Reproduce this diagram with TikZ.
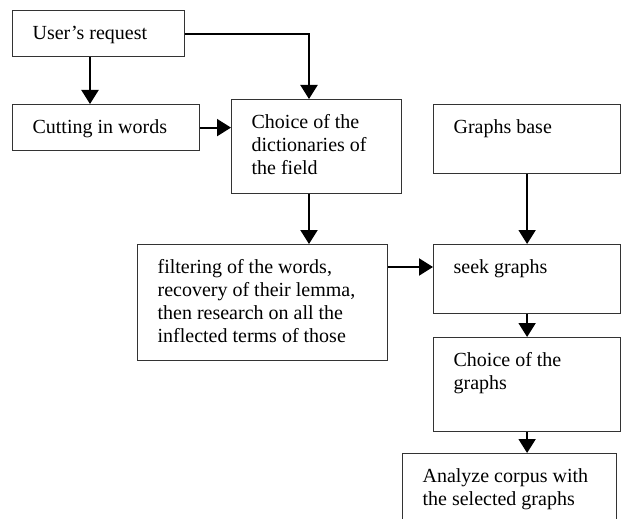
\documentclass[tikz,border=0pt]{standalone}
\usepackage{fontspec}
\setmainfont{Liberation Serif}
\usepackage{tikz}
\usetikzlibrary{arrows.meta,positioning,calc}
\newcommand{\boxtext}[3]
{
	\parbox[c][#2][t]{#1}{\raggedright\vspace{6.5pt}\strut #3}
}

\begin{document}
\begin{tikzpicture}[x=0.5pt, y=-0.5pt,
			font=\fontsize{10}{11.5}\selectfont,
			blk/.style={draw=black!80, line width=0.6pt,
				anchor=north west,
				inner xsep=10pt, inner ysep=0pt},
			arr/.style={-{Triangle[length=7pt,width=8.5pt]}, line width=1pt}]
			
			\clip (0,0) rectangle (621,519);
			
			\node[blk] at (12, 10) (user){\boxtext{66pt}{23pt}{User's request}};
			\node[blk] at (12, 104) (cut){\boxtext{73.5pt}{23pt}{Cutting in words}};
			\node[blk] at (231, 99) (dict){\boxtext{65pt}{47pt}{Choice of the\\ dictionaries of\\ the field}};
			\node[blk] at (137, 244) (filt){\boxtext{105pt}{58pt}{filtering of the words,\\ recovery of their lemma,\\ then research on all the\\ inflected terms of those}};
			
			\node[blk] at (433, 104) (base){\boxtext{73.5pt}{34.5pt}{Graphs base}};
			\node[blk] at (433, 244) (seek){\boxtext{73.5pt}{34.5pt}{seek graphs}};
			\node[blk] at (433, 337) (pick){\boxtext{73.5pt}{47pt}{Choice of the\\ graphs}};
			\node[blk] at (402, 453) (corpus){\boxtext{87pt}{46pt}{Analyze corpus with\\ the selected graphs}};
			
			\draw[arr] ([xshift=39pt]user.south west) -- ([xshift=39pt]cut.north west);
			\draw[arr] (user.east) -| ([xshift=39pt]dict.north west);
			\draw[arr] (cut.east) -- (cut.east -| dict.west);
			\draw[arr] ([xshift=39pt]dict.south west) -- ([xshift=39pt]dict.south west |- filt.north);
			\draw[arr] ([yshift=-11.5pt]filt.north east) -- ([yshift=-11.5pt]seek.north west);
			
			\draw[arr] (base.south) -- (seek.north);
			\draw[arr] (seek.south) -- (pick.north);
			\draw[arr] (pick.south) -- (pick.south |- corpus.north);
		\end{tikzpicture}
\end{document}
